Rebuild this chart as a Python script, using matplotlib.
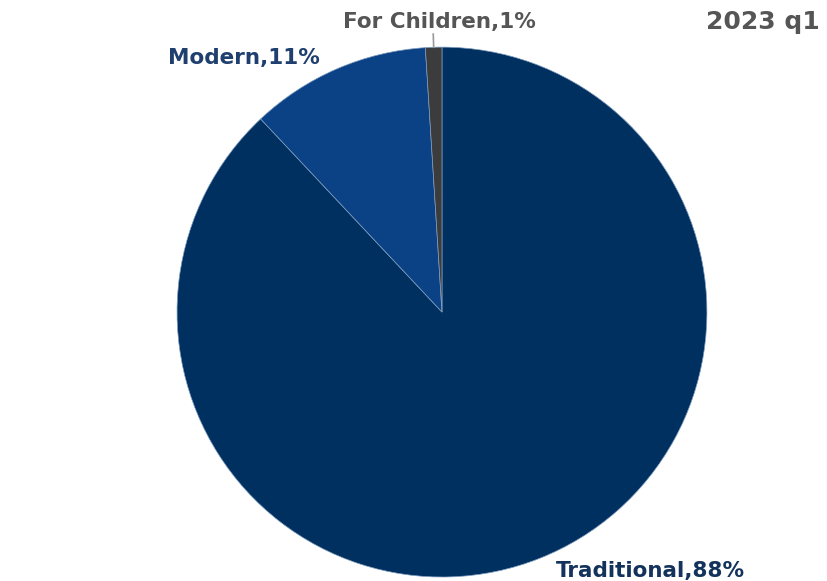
import numpy as np
import matplotlib.pyplot as plt

# Data
categories = ['Traditional', 'Modern', 'For Children']
shares = [88, 11, 1]
colors = ['#00305f', '#0b4285', '#3c3c3c']
label_colors = ['#14335c', '#1f3f6e', '#555555']
title = '2023 q1'

fig = plt.figure(figsize=(8.28, 5.81), dpi=100)
ax = fig.add_axes([0.2138, 0.00688, 0.640, 0.912])

wedges, _ = ax.pie(shares, colors=colors, startangle=90, counterclock=False,
                   radius=1.0, wedgeprops=dict(edgecolor='#7f9cc0', linewidth=0.5))
ax.set_xlim(-1, 1)
ax.set_ylim(-1, 1)
ax.set_aspect('equal')
ax.axis('off')

# Labels placed from each wedge's mid angle
fs = 15.5
for w, cat, val, lc in zip(wedges, categories, shares, label_colors):
    mid = np.radians((w.theta1 + w.theta2) / 2)
    x, y = np.cos(mid), np.sin(mid)
    txt = f'{cat},{val}%'
    if cat == 'For Children':
        ax.plot([x, x * 1.05], [y, y * 1.05], color='#999999', lw=1.2, clip_on=False)
        ax.text(x + 0.02, 1.094, txt, ha='center', va='center', fontsize=fs,
                fontweight='bold', color=lc, clip_on=False)
    elif x > 0:
        ax.text(x + 0.06, y - 0.047, txt, ha='left', va='center', fontsize=fs,
                fontweight='bold', color=lc, clip_on=False)
    else:
        ax.text(x - 0.064, y + 0.042, txt, ha='right', va='center', fontsize=fs,
                fontweight='bold', color=lc, clip_on=False)

fig.text(0.99, 0.962, title, ha='right', va='center', fontsize=18,
         fontweight='bold', color='#555555')

fig.savefig('out.png', dpi=100)
